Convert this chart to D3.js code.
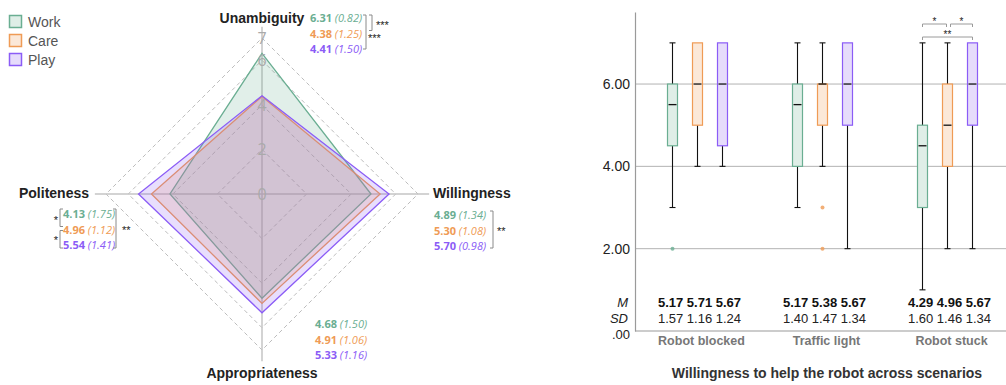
<!DOCTYPE html>
<html>
<head>
<meta charset="utf-8">
<script src="https://cdn.jsdelivr.net/npm/d3@7"></script>
<style>
  body { margin: 0; background: #fff; }
  svg { display: block; }
</style>
</head>
<body>
<svg id="chart" width="1006" height="385"></svg>
<script>
// ---- shared series ----
const seriesNames = ["Work", "Care", "Play"];
const strokeColors = ["#6aae92", "#ef9b55", "#8b5cf6"];
const fillColors = ["#dfeee7", "#fbe8d8", "#e6dcfb"];

// ---- radar: ratings per dimension ----
const radarAxes = ["Unambiguity", "Willingness", "Appropriateness", "Politeness"];
const workMeans = [6.31, 4.89, 4.68, 4.13];
const careMeans = [4.38, 5.30, 4.91, 4.96];
const playMeans = [4.41, 5.70, 5.33, 5.54];
const workSDs = [0.82, 1.34, 1.50, 1.75];
const careSDs = [1.25, 1.08, 1.06, 1.12];
const playSDs = [1.50, 0.98, 1.16, 1.41];
const radarTicks = [0, 2, 4, 6, 7];
const radarRings = [2, 4, 6, 7];

// ---- boxplot: willingness to help per scenario ----
const scenarios = ["Robot blocked", "Traffic light", "Robot stuck"];
// [min, q1, median, q3, max]
const workBoxes = [[3, 4.5, 5.5, 6, 7], [3, 4, 5.5, 6, 7], [1, 3, 4.5, 5, 7]];
const careBoxes = [[4, 5, 6, 7, 7], [4, 5, 6, 6, 7], [2, 4, 5, 6, 7]];
const playBoxes = [[4, 4.5, 6, 7, 7], [2, 5, 6, 7, 7], [2, 5, 6, 7, 7]];
const workOutliers = [[2], [], []];
const careOutliers = [[], [3, 2], []];
const playOutliers = [[], [], []];
const workM = [5.17, 5.17, 4.29];
const careM = [5.71, 5.38, 4.96];
const playM = [5.67, 5.67, 5.67];
const workSD = [1.57, 1.40, 1.60];
const careSD = [1.16, 1.47, 1.46];
const playSD = [1.24, 1.34, 1.34];
const boxTicks = [0, 2, 4, 6];
const boxTickLabels = [".00", "2.00", "4.00", "6.00"];
const stuckComparisons = [[0, 1, "*"], [1, 2, "*"], [0, 2, "**"]];

const svg = d3.select("#chart");
const SANS = "'Liberation Sans', Arial, sans-serif";
const VALUE_FONT = "'Open Sans', sans-serif";

// ================= Legend =================
const legend = svg.append("g").attr("transform", "translate(9,15)");
seriesNames.forEach((name, i) => {
  const g = legend.append("g").attr("transform", `translate(0,${i * 19})`);
  g.append("rect").attr("x", 0.5).attr("y", 0.5).attr("width", 12).attr("height", 12)
    .attr("fill", fillColors[i]).attr("stroke", strokeColors[i]).attr("stroke-width", 1.5);
  g.append("text").attr("x", 19).attr("y", 6.5).attr("dominant-baseline", "central")
    .attr("font-family", SANS).attr("font-size", 14).attr("fill", "#555").text(name);
});

// ================= Radar =================
const cx = 262, cy = 194;
const r = d3.scaleLinear().domain([0, 7]).range([0, 156]);
const angleOf = i => i * Math.PI / 2;
const radar = svg.append("g").attr("transform", `translate(${cx},${cy})`);

const ringLine = d3.lineRadial()
  .angle((d, i) => angleOf(i)).radius(d => r(d)).curve(d3.curveLinearClosed);

radar.selectAll("path.ring").data(radarRings).join("path")
  .attr("class", "ring")
  .attr("d", lv => ringLine(radarAxes.map(() => lv)))
  .attr("fill", "none").attr("stroke", "#bdbdbd").attr("stroke-width", 1)
  .attr("stroke-dasharray", "4,3");

// axis spokes
radarAxes.forEach((a, i) => {
  const ang = angleOf(i), R = r(7.5);
  radar.append("line").attr("x1", 0).attr("y1", 0)
    .attr("x2", R * Math.sin(ang)).attr("y2", -R * Math.cos(ang))
    .attr("stroke", "#c4c4c4").attr("stroke-width", 1.5);
});

const radarSeries = [workMeans, careMeans, playMeans];
radar.selectAll("path.area").data(radarSeries).join("path")
  .attr("class", "area")
  .attr("d", d => ringLine(d))
  .attr("fill", (d, i) => strokeColors[i]).attr("fill-opacity", 0.2)
  .attr("stroke", (d, i) => strokeColors[i]).attr("stroke-width", 1.3)
  .attr("stroke-linejoin", "miter");

// scale labels on vertical spoke
radar.selectAll("text.tick").data(radarTicks).join("text")
  .attr("class", "tick")
  .attr("x", 0).attr("y", d => -r(d))
  .attr("text-anchor", "middle").attr("dominant-baseline", "central")
  .attr("font-family", VALUE_FONT).attr("font-size", 16).attr("fill", "#aaa")
  .text(d => d);

// axis titles
const axisTitlePos = [
  { x: cx, y: 18, anchor: "middle" },
  { x: 433, y: 193, anchor: "start" },
  { x: cx, y: 373, anchor: "middle" },
  { x: 89, y: 193, anchor: "end" }
];
radarAxes.forEach((a, i) => {
  const p = axisTitlePos[i];
  svg.append("text").attr("x", p.x).attr("y", p.y)
    .attr("text-anchor", p.anchor).attr("dominant-baseline", "central")
    .attr("font-family", SANS).attr("font-weight", "bold").attr("font-size", 14)
    .attr("fill", "#222").text(a);
});

// mean (SD) blocks per axis
const radarSDs = [workSDs, careSDs, playSDs];
const blockPos = [
  { x: 310, y: 17 },
  { x: 434, y: 214 },
  { x: 315, y: 323 },
  { x: 63, y: 213 }
];
const lineStep = 15.5;
radarAxes.forEach((a, ai) => {
  const p = blockPos[ai];
  seriesNames.forEach((s, si) => {
    const t = svg.append("text").attr("x", p.x).attr("y", p.y + si * lineStep)
      .attr("dominant-baseline", "central")
      .attr("font-family", VALUE_FONT).attr("font-size", 11)
      .attr("fill", strokeColors[si]);
    t.append("tspan").attr("font-weight", "bold").text(radarSeries[si][ai].toFixed(2));
    t.append("tspan").attr("font-style", "italic").text(" (" + radarSDs[si][ai].toFixed(2) + ")");
  });
});

// significance brackets
function bracket(x, y1, y2, dir, label, lx, ly, anchor) {
  const t = 3 * dir;
  svg.append("path")
    .attr("d", `M${x - t},${y1}H${x}V${y2}H${x - t}`)
    .attr("fill", "none").attr("stroke", "#8a8a8a").attr("stroke-width", 1);
  svg.append("text").attr("x", lx).attr("y", ly + 6)
    .attr("text-anchor", anchor || "start")
    .attr("font-family", SANS).attr("font-size", 11).attr("fill", "#222").text(label);
}
const lineY = (ai, k) => blockPos[ai].y + k * lineStep;
// Unambiguity
bracket(372, lineY(0, 0) - 2, lineY(0, 1) - 2, 1, "***", 376, 23);
bracket(366, lineY(0, 0) - 2, lineY(0, 2) + 1, 1, "***", 368, 36);
// Willingness
bracket(493, lineY(1, 0) - 3, lineY(1, 2) + 3, 1, "**", 497, 229);
// Politeness
bracket(60, lineY(3, 0) - 4, lineY(3, 1) - 2, -1, "*", 56, 218, "middle");
bracket(60, lineY(3, 1) + 2, lineY(3, 2) + 4, -1, "*", 56, 238, "middle");
bracket(116, lineY(3, 0) - 4, lineY(3, 2) + 4, 1, "**", 122, 228);

// ================= Boxplot =================
const plotLeft = 635, plotRight = 1006, plotBottom = 331, plotTop = 12;
const y = d3.scaleLinear().domain([0, 7.75]).range([plotBottom, plotTop]);
const xg = d3.scaleBand().domain(scenarios).range([plotLeft, 1010]);
const xs = d3.scalePoint().domain(seriesNames).range([-25, 25]);
const boxW = 10;
const sx = (gi, si) => xg(scenarios[gi]) + xg.bandwidth() / 2 + xs(seriesNames[si]);

const bp = svg.append("g");
// grid
bp.selectAll("line.grid").data(boxTicks.filter(d => d > 0)).join("line")
  .attr("class", "grid")
  .attr("x1", plotLeft).attr("x2", plotRight).attr("y1", d => y(d)).attr("y2", d => y(d))
  .attr("stroke", "#b3b3b3").attr("stroke-width", 1);

// y axis
const yAxis = bp.append("g").attr("transform", `translate(${plotLeft},0)`)
  .call(d3.axisLeft(y).tickValues(boxTicks).tickFormat((d, i) => boxTickLabels[i])
    .tickSize(0).tickPadding(5));
yAxis.select(".domain").attr("stroke", "#9a9a9a").attr("stroke-width", 1.2);
yAxis.selectAll("text").attr("font-family", SANS).attr("font-size", 14).attr("fill", "#222");
yAxis.selectAll(".tick").filter(d => d === 0).select("text").attr("dy", "0.55em").attr("font-size", 13);
// baseline
bp.append("line").attr("x1", plotLeft).attr("x2", plotRight).attr("y1", plotBottom).attr("y2", plotBottom)
  .attr("stroke", "#9a9a9a").attr("stroke-width", 1.2);

const allBoxes = [workBoxes, careBoxes, playBoxes];
const allOutliers = [workOutliers, careOutliers, playOutliers];
scenarios.forEach((sc, gi) => {
  seriesNames.forEach((s, si) => {
    const [mn, q1, md, q3, mx] = allBoxes[si][gi];
    const x = sx(gi, si);
    const g = bp.append("g");
    // whiskers
    if (mn < q1) {
      g.append("line").attr("x1", x).attr("x2", x).attr("y1", y(mn)).attr("y2", y(q1))
        .attr("stroke", "#111").attr("stroke-width", 1.1);
      g.append("line").attr("x1", x - 3).attr("x2", x + 3).attr("y1", y(mn)).attr("y2", y(mn))
        .attr("stroke", "#111").attr("stroke-width", 1.1);
    }
    if (mx > q3) {
      g.append("line").attr("x1", x).attr("x2", x).attr("y1", y(mx)).attr("y2", y(q3))
        .attr("stroke", "#111").attr("stroke-width", 1.1);
      g.append("line").attr("x1", x - 3).attr("x2", x + 3).attr("y1", y(mx)).attr("y2", y(mx))
        .attr("stroke", "#111").attr("stroke-width", 1.1);
    }
    // box
    g.append("rect").attr("x", x - boxW / 2).attr("y", y(q3))
      .attr("width", boxW).attr("height", y(q1) - y(q3))
      .attr("fill", fillColors[si]).attr("stroke", strokeColors[si]).attr("stroke-width", 1.2);
    // median
    g.append("line").attr("x1", x - boxW / 2 + 1).attr("x2", x + boxW / 2 - 1)
      .attr("y1", y(md)).attr("y2", y(md)).attr("stroke", "#111").attr("stroke-width", 1.3);
    // outliers
    g.selectAll("circle").data(allOutliers[si][gi]).join("circle")
      .attr("cx", x).attr("cy", d => y(d)).attr("r", 2)
      .attr("fill", strokeColors[si]).attr("fill-opacity", 0.8);
  });
});

// comparisons in "Robot stuck"
const stuckIdx = scenarios.indexOf("Robot stuck");
stuckComparisons.forEach(([a, b, lab], k) => {
  const yy = k < 2 ? 24 : 37;
  const x1 = sx(stuckIdx, a) + (k < 2 && a > 0 ? 3 : 0);
  const x2 = sx(stuckIdx, b) - (k < 2 && b < 2 ? 1 : 0);
  bp.append("path").attr("d", `M${x1},${yy + 3}V${yy}H${x2}V${yy + 3}`)
    .attr("fill", "none").attr("stroke", "#9a9a9a").attr("stroke-width", 1);
  bp.append("text").attr("x", (x1 + x2) / 2).attr("y", yy - 5 + 6)
    .attr("text-anchor", "middle").attr("font-family", SANS).attr("font-size", 10)
    .attr("fill", "#222").text(lab);
});

// M / SD rows
const allM = [workM, careM, playM];
const allSD = [workSD, careSD, playSD];
bp.append("text").attr("x", 628).attr("y", 302).attr("text-anchor", "end")
  .attr("dominant-baseline", "central").attr("font-family", SANS).attr("font-style", "italic")
  .attr("font-size", 13).attr("fill", "#222").text("M");
bp.append("text").attr("x", 628).attr("y", 318).attr("text-anchor", "end")
  .attr("dominant-baseline", "central").attr("font-family", SANS).attr("font-style", "italic")
  .attr("font-size", 13).attr("fill", "#222").text("SD");
scenarios.forEach((sc, gi) => {
  const c = xg(sc) + xg.bandwidth() / 2 + 2;
  bp.append("text").attr("x", c).attr("y", 302).attr("text-anchor", "middle")
    .attr("dominant-baseline", "central").attr("font-family", SANS).attr("font-weight", "bold")
    .attr("font-size", 13).attr("fill", "#111")
    .text(allM.map(m => m[gi].toFixed(2)).join(" "));
  bp.append("text").attr("x", c).attr("y", 318).attr("text-anchor", "middle")
    .attr("dominant-baseline", "central").attr("font-family", SANS)
    .attr("font-size", 13).attr("fill", "#222")
    .text(allSD.map(m => m[gi].toFixed(2)).join(" "));
  bp.append("text").attr("x", c + 2).attr("y", 341).attr("text-anchor", "middle")
    .attr("dominant-baseline", "central").attr("font-family", SANS).attr("font-weight", "bold")
    .attr("font-size", 12.5).attr("fill", "#777").text(sc);
});

// title
svg.append("text").attr("x", 827).attr("y", 373).attr("text-anchor", "middle")
  .attr("dominant-baseline", "central").attr("font-family", SANS).attr("font-weight", "bold")
  .attr("font-size", 14).attr("fill", "#333")
  .text("Willingness to help the robot across scenarios");
</script>
</body>
</html>
